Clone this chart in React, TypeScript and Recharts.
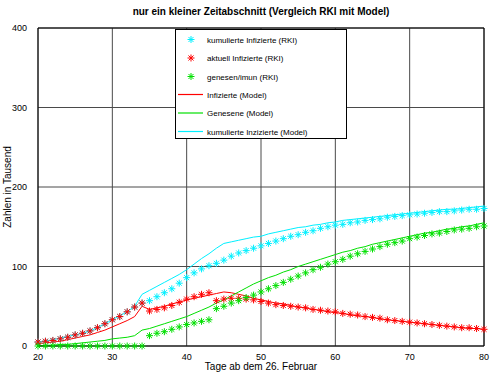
import { ComposedChart, Line, XAxis, YAxis, CartesianGrid, Legend, ReferenceLine, Label } from "recharts";

const days = [
  20, 21, 22, 23, 24, 25, 26, 27, 28, 29, 30, 31, 32, 33, 34, 35, 36, 37, 38, 39, 40,
  41, 42, 43, 44, 45, 46, 47, 48, 49, 50, 51, 52, 53, 54, 55, 56, 57, 58, 59, 60,
  61, 62, 63, 64, 65, 66, 67, 68, 69, 70, 71, 72, 73, 74, 75, 76, 77, 78, 79, 80,
];

// RKI Meldungen (Tausend)
const kumRki = [
  5, 6, 7, 9, 11, 14, 16, 19, 23, 28, 33, 37, 43, 49, 54, 57, 62, 67, 72, 79, 86,
  92, 97, 101, 104, 108, 113, 117, 120, 123, 126, 129, 132, 135, 138, 140, 143, 145, 148, 150, 152,
  153, 155, 156, 158, 159, 160, 162, 163, 164, 165, 166, 167, 168, 169, 169, 170, 171, 172, 172, 173,
];
const aktRki = [
  5, 6, 7, 9, 11, 14, 16, 19, 23, 28, 33, 37, 43, 49, 54, 44, 46, 48, 51, 55, 59,
  62, 65, 67, 57, 59, 60, 60, 59, 58, 56, 54, 52, 51, 50, 49, 48, 46, 45, 44, 43,
  41, 40, 39, 37, 36, 35, 33, 32, 31, 30, 29, 28, 27, 26, 25, 24, 23, 23, 22, 21,
];
const genRki = [
  0, 0, 0, 0, 0, 0, 0, 0, 0, 0, 0, 0, 0, 0, 0, 13, 16, 18, 21, 24, 27,
  29, 31, 33, 47, 50, 54, 57, 61, 64, 68, 72, 76, 80, 84, 88, 92, 96, 99, 103, 106,
  109, 113, 116, 119, 122, 125, 128, 130, 132, 135, 137, 139, 141, 142, 144, 146, 147, 148, 150, 151,
];

// Modell
const infModel = [
  3, 4, 5, 6, 8, 10, 12, 14, 17, 20, 24, 28, 32, 37, 50, 46, 48, 50, 53, 55, 58,
  60, 62, 64, 66, 68, 67, 65, 63, 60, 58, 56, 54, 53, 51, 49, 48, 46, 45, 43, 42,
  41, 39, 38, 37, 36, 34, 33, 32, 31, 30, 29, 28, 27, 26, 25, 24, 23, 22, 22, 21,
];
const genModel = [
  0, 1, 1, 2, 2, 3, 4, 5, 6, 7, 9, 10, 11, 13, 20, 22, 25, 28, 31, 34, 37,
  41, 45, 49, 54, 58, 63, 68, 73, 78, 82, 86, 89, 93, 96, 100, 103, 106, 109, 112, 115,
  118, 120, 123, 125, 128, 130, 132, 134, 136, 138, 140, 142, 143, 145, 147, 148, 150, 151, 153, 155,
];
const kumModel = [
  5, 6, 8, 10, 12, 14, 16, 19, 23, 28, 33, 38, 43, 50, 65, 70, 75, 80, 85, 90, 96,
  103, 110, 116, 123, 129, 131, 133, 135, 137, 138, 141, 143, 145, 147, 149, 150, 152, 153, 155, 156,
  158, 159, 160, 161, 162, 163, 164, 165, 166, 167, 168, 169, 170, 171, 172, 172, 173, 174, 175, 176,
];

const xTicks = [20, 30, 40, 50, 60, 70, 80];
const yTicks = [0, 100, 200, 300, 400];

const data = days.map((d, i) => ({
  day: d,
  kumRki: kumRki[i],
  aktRki: aktRki[i],
  genRki: genRki[i],
  infModel: infModel[i],
  genModel: genModel[i],
  kumModel: kumModel[i],
}));

const FONT = "'Liberation Sans', Arial, sans-serif";
const CYAN = "#00f0ff";
const RED = "#ff0000";
const GREEN = "#00e000";

function Star({ cx, cy, color, r = 3.5 }: { cx: number; cy: number; color: string; r?: number }) {
  const d = r * 0.72;
  return (
    <g stroke={color} strokeWidth={1}>
      <line x1={cx - r} y1={cy} x2={cx + r} y2={cy} />
      <line x1={cx} y1={cy - r} x2={cx} y2={cy + r} />
      <line x1={cx - d} y1={cy - d} x2={cx + d} y2={cy + d} />
      <line x1={cx - d} y1={cy + d} x2={cx + d} y2={cy - d} />
    </g>
  );
}

const starDot = (color: string) => (props: any) => {
  const { cx, cy, index } = props;
  if (cx == null || cy == null) return <g key={`s-${index}`} />;
  return (
    <g key={`s-${color}-${index}`}>
      <Star cx={cx} cy={cy} color={color} />
    </g>
  );
};

const legendRows = [
  { label: "kumulierte Infizierte (RKI)", color: CYAN, star: true },
  { label: "aktuell Infizierte (RKI)", color: RED, star: true },
  { label: "genesen/imun (RKI)", color: GREEN, star: true },
  { label: "Infizierte (Model)", color: RED, star: false },
  { label: "Genesene (Model)", color: GREEN, star: false },
  { label: "kumulierte Inzizierte (Model)", color: CYAN, star: false },
];

function LegendBox() {
  const rowY = [10.5, 29, 47.5, 65.5, 84, 102.5];
  return (
    <svg width={173} height={111} style={{ display: "block" }}>
      <rect x={0.5} y={0.5} width={171} height={109} fill="#fff" stroke="#000" />
      {legendRows.map((r, i) => (
        <g key={r.label}>
          {r.star ? (
            <Star cx={16} cy={rowY[i]} color={r.color} />
          ) : (
            <line x1={3} x2={28} y1={rowY[i]} y2={rowY[i]} stroke={r.color} strokeWidth={1.2} />
          )}
          <text x={32} y={rowY[i] + 3} fontSize={8} fontFamily={FONT} fill="#000">
            {r.label}
          </text>
        </g>
      ))}
    </svg>
  );
}

const YLabel = (props: any) => {
  const { viewBox } = props;
  const x = viewBox.x + 11;
  const y = viewBox.y + viewBox.height / 2;
  return (
    <text x={x} y={y} transform={`rotate(-90 ${x} ${y})`} textAnchor="middle" fontSize={10} fontFamily={FONT} fill="#000">
      Zahlen in Tausend
    </text>
  );
};

const XLabel = (props: any) => {
  const { viewBox } = props;
  return (
    <text x={viewBox.x + viewBox.width / 2} y={viewBox.y + 24} textAnchor="middle" fontSize={10} fontFamily={FONT} fill="#000">
      Tage ab dem 26. Februar
    </text>
  );
};

export default function App() {
  return (
    <div style={{ position: "absolute", left: 0, top: 0, width: 500, height: 375, background: "#fff" }}>
      <div
        style={{
          position: "absolute",
          left: 38,
          width: 446,
          top: 6,
          textAlign: "center",
          fontFamily: FONT,
          fontWeight: "bold",
          fontSize: 10,
          color: "#000",
        }}
      >
        nur ein kleiner Zeitabschnitt (Vergleich RKI mit Model)
      </div>
      <ComposedChart width={500} height={375} data={data} margin={{ top: 28, right: 16, bottom: 0, left: 0 }}>
        <CartesianGrid stroke="#4a4a4a" strokeWidth={1} />
        <XAxis
          dataKey="day"
          type="number"
          domain={[20, 80]}
          ticks={xTicks}
          height={29}
          tickLine={false}
          tickMargin={2}
          axisLine={{ stroke: "#000" }}
          tick={{ fontSize: 9, fontFamily: FONT, fill: "#000" }}
        >
          <Label content={XLabel} />
        </XAxis>
        <YAxis
          type="number"
          domain={[0, 400]}
          ticks={yTicks}
          width={38}
          tickLine={false}
          tickMargin={5}
          axisLine={{ stroke: "#000" }}
          tick={{ fontSize: 9, fontFamily: FONT, fill: "#000" }}
        >
          <Label content={YLabel} />
        </YAxis>
        <ReferenceLine y={400} stroke="#000" />
        <ReferenceLine x={80} stroke="#000" />
        <Line dataKey="kumRki" stroke="none" dot={starDot(CYAN)} activeDot={false} isAnimationActive={false} />
        <Line dataKey="aktRki" stroke="none" dot={starDot(RED)} activeDot={false} isAnimationActive={false} />
        <Line dataKey="genRki" stroke="none" dot={starDot(GREEN)} activeDot={false} isAnimationActive={false} />
        <Line dataKey="infModel" type="linear" stroke={RED} strokeWidth={1} dot={false} activeDot={false} isAnimationActive={false} />
        <Line dataKey="genModel" type="linear" stroke={GREEN} strokeWidth={1} dot={false} activeDot={false} isAnimationActive={false} />
        <Line dataKey="kumModel" type="linear" stroke={CYAN} strokeWidth={1} dot={false} activeDot={false} isAnimationActive={false} />
        <Legend
          layout="vertical"
          align="center"
          verticalAlign="middle"
          wrapperStyle={{ position: "absolute", left: 175, top: 29, width: 173, height: 111 }}
          content={() => <LegendBox />}
        />
      </ComposedChart>
    </div>
  );
}
